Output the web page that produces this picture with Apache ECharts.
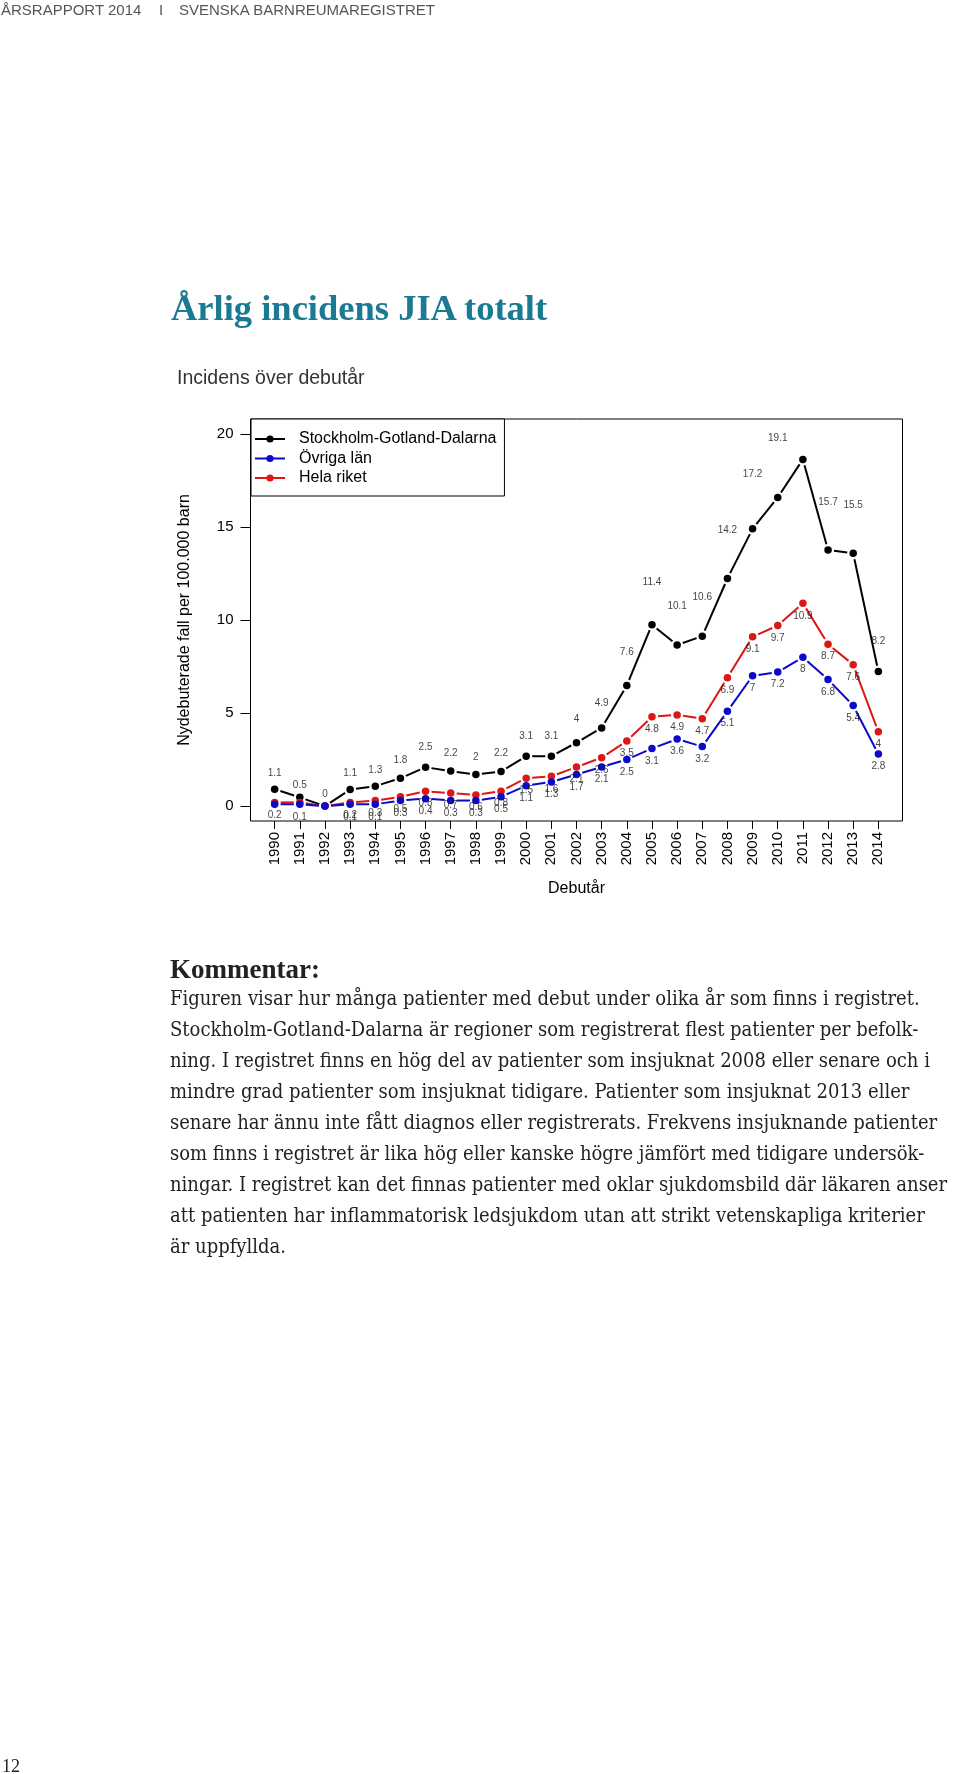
<!DOCTYPE html>
<html>
<head>
<meta charset="utf-8">
<script src="https://cdn.jsdelivr.net/npm/echarts@6/dist/echarts.min.js"></script>
<style>
html,body{margin:0;padding:0;background:#fff;}
#page{position:relative;width:960px;height:1774px;overflow:hidden;background:#fff;}
#chart{position:absolute;left:0;top:0;width:960px;height:1774px;}
.t{position:absolute;white-space:pre;z-index:2;}
.hdr{font-family:'Liberation Sans',Arial,sans-serif;font-size:15px;line-height:15px;color:#555;}
.title{font-family:'Liberation Serif',serif;font-weight:bold;font-size:36.5px;line-height:36.5px;color:#1a7a94;}
.sub{font-family:'Liberation Sans',Arial,sans-serif;font-size:19.5px;line-height:19.5px;color:#333;}
.komm{font-family:'Liberation Serif',serif;font-weight:bold;font-size:27px;line-height:27px;color:#222;}
.body{font-family:'DejaVu Serif Condensed','DejaVu Serif',serif;font-stretch:condensed;font-size:20px;line-height:20px;color:#222;left:170px;}
.pg{font-family:'Liberation Serif',serif;font-size:18px;line-height:18px;color:#222;}
</style>
</head>
<body>
<div id="page">
  <div id="chart"></div>
  <div class="t hdr" style="left:1px;top:2px;">ÅRSRAPPORT 2014</div>
  <div class="t hdr" style="left:159px;top:2px;">I</div>
  <div class="t hdr" style="left:179px;top:2px;">SVENSKA BARNREUMAREGISTRET</div>
  <div class="t title" style="left:171px;top:290px;">Årlig incidens JIA totalt</div>
  <div class="t sub" style="left:177px;top:368px;">Incidens över debutår</div>
  <div class="t komm" style="left:170px;top:956px;">Kommentar:</div>
  <div class="t body" style="top:987.8px;">Figuren visar hur många patienter med debut under olika år som finns i registret.</div>
  <div class="t body" style="top:1018.8px;">Stockholm-Gotland-Dalarna är regioner som registrerat flest patienter per befolk-</div>
  <div class="t body" style="top:1049.8px;">ning. I registret finns en hög del av patienter som insjuknat 2008 eller senare och i</div>
  <div class="t body" style="top:1080.8px;">mindre grad patienter som insjuknat tidigare. Patienter som insjuknat 2013 eller</div>
  <div class="t body" style="top:1111.8px;">senare har ännu inte fått diagnos eller registrerats. Frekvens insjuknande patienter</div>
  <div class="t body" style="top:1142.8px;">som finns i registret är lika hög eller kanske högre jämfört med tidigare undersök-</div>
  <div class="t body" style="top:1173.8px;">ningar. I registret kan det finnas patienter med oklar sjukdomsbild där läkaren anser</div>
  <div class="t body" style="top:1204.8px;">att patienten har inflammatorisk ledsjukdom utan att strikt vetenskapliga kriterier</div>
  <div class="t body" style="top:1235.8px;">är uppfyllda.</div>
  <div class="t pg" style="left:2px;top:1757px;">12</div>
</div>
<script>
// ---- data ----
const years = [1990,1991,1992,1993,1994,1995,1996,1997,1998,1999,2000,2001,2002,2003,2004,2005,2006,2007,2008,2009,2010,2011,2012,2013,2014];
const yTicks = [0,5,10,15,20];
const seriesNames = ['Stockholm-Gotland-Dalarna','Övriga län','Hela riket'];
// marker positions as drawn
const sgdValues = [0.91,0.47,0,0.89,1.07,1.5,2.09,1.88,1.7,1.86,2.68,2.68,3.41,4.2,6.48,9.75,8.66,9.13,12.23,14.9,16.58,18.63,13.76,13.58,7.23];
// printed labels
const sgdLabels = [1.1,0.5,0,1.1,1.3,1.8,2.5,2.2,2,2.2,3.1,3.1,4,4.9,7.6,11.4,10.1,10.6,14.2,17.2,19.1,null,15.7,15.5,8.2];
const ovrigaValues = [0.1,0.1,0,0.1,0.1,0.3,0.4,0.3,0.3,0.5,1.1,1.3,1.7,2.1,2.5,3.1,3.6,3.2,5.1,7,7.2,8,6.8,5.4,2.8];
const ovrigaLabels = [null,0.1,null,0.1,0.1,0.3,0.4,0.3,0.3,0.5,1.1,1.3,1.7,2.1,2.5,3.1,3.6,3.2,5.1,7,7.2,8,6.8,5.4,2.8];
const helaValues = [0.2,0.2,0,0.2,0.3,0.5,0.8,0.7,0.6,0.8,1.5,1.6,2.1,2.6,3.5,4.8,4.9,4.7,6.9,9.1,9.7,10.9,8.7,7.6,4];
const helaLabels = [0.2,null,null,0.2,0.3,0.5,0.8,0.7,0.6,0.8,1.5,1.6,2.1,2.6,3.5,4.8,4.9,4.7,6.9,9.1,9.7,10.9,8.7,7.6,4];

const FONT = "'Liberation Sans', Arial, Helvetica, sans-serif";
const COLORS = ['#000000', '#0a0ac8', '#dd1616'];
const GAP = 6;

function markerSeries(name, vals, color, z) {
  return {
    name: name, type: 'line', data: years.map((y, i) => [y, vals[i]]),
    symbol: 'circle', symbolSize: 7.5, showAllSymbol: true,
    lineStyle: { opacity: 0, width: 0 }, itemStyle: { color: color },
    z: z, silent: true, emphasis: { disabled: true }
  };
}
function segSeries(vals, color, z) {
  const data = [];
  for (let i = 0; i < years.length - 1; i++) data.push([years[i], vals[i], years[i + 1], vals[i + 1]]);
  return {
    type: 'custom', silent: true, z: z, data: data,
    encode: { x: [0, 2], y: [1, 3] },
    renderItem: function (params, api) {
      const p0 = api.coord([api.value(0), api.value(1)]);
      const p1 = api.coord([api.value(2), api.value(3)]);
      const dx = p1[0] - p0[0], dy = p1[1] - p0[1];
      const len = Math.sqrt(dx * dx + dy * dy);
      if (len <= 2 * GAP) return null;
      const ux = dx / len, uy = dy / len;
      return {
        type: 'line',
        shape: { x1: p0[0] + ux * GAP, y1: p0[1] + uy * GAP, x2: p1[0] - ux * GAP, y2: p1[1] - uy * GAP },
        style: { stroke: color, lineWidth: 2 }
      };
    }
  };
}
function labelSeries(labels, dy, z) {
  const data = [];
  years.forEach((y, i) => { if (labels[i] !== null) data.push([y, labels[i]]); });
  return {
    type: 'scatter', data: data, symbolSize: 1, silent: true, z: z,
    itemStyle: { color: 'rgba(0,0,0,0)' },
    label: { show: true, position: 'inside', offset: [0, dy], formatter: p => String(p.value[1]),
      fontSize: 10, color: '#111', fontFamily: FONT }
  };
}

const chart = echarts.init(document.getElementById('chart'), null, { renderer: 'canvas' });
chart.setOption({
  animation: false,
  backgroundColor: 'transparent',
  grid: { left: 250.5, top: 419, width: 652, height: 402, show: true, borderColor: '#000', borderWidth: 1, backgroundColor: 'transparent' },
  legend: {
    orient: 'vertical', left: 251, top: 419, padding: [12, 8, 10, 3], itemGap: 3.5, itemWidth: 30, itemHeight: 9,
    borderColor: '#000', borderWidth: 1, backgroundColor: '#fff', selectedMode: false,
    textStyle: { fontSize: 16, fontFamily: FONT, color: '#000', lineHeight: 16, padding: [0, 0, 0, 9] },
    data: seriesNames.map((n, i) => ({ name: n, lineStyle: { color: COLORS[i], width: 2, opacity: 1 }, itemStyle: { color: COLORS[i] } }))
  },
  xAxis: {
    type: 'value', min: 1989.04, max: 2014.96,
    axisLine: { show: false, onZero: false }, splitLine: { show: false },
    axisTick: { show: true, length: 8, lineStyle: { color: '#000', width: 1 }, customValues: years },
    axisLabel: { rotate: 90, margin: 11, fontSize: 15, color: '#000', fontFamily: FONT, customValues: years, formatter: v => String(v) },
    name: 'Debutår', nameLocation: 'middle', nameGap: 60,
    nameTextStyle: { fontSize: 16, color: '#000', fontFamily: FONT }
  },
  yAxis: {
    type: 'value', min: -0.8, max: 20.8,
    axisLine: { show: false, onZero: false }, splitLine: { show: false },
    axisTick: { show: true, length: 10, lineStyle: { color: '#000', width: 1 }, customValues: yTicks },
    axisLabel: { margin: 17, fontSize: 15, color: '#000', fontFamily: FONT, customValues: yTicks, formatter: v => String(v) },
    name: 'Nydebuterade fall per 100.000 barn', nameLocation: 'middle', nameGap: 58, nameRotate: 90,
    nameTextStyle: { fontSize: 16, color: '#000', fontFamily: FONT }
  },
  series: [
    segSeries(sgdValues, COLORS[0], 2),
    segSeries(helaValues, COLORS[2], 2),
    segSeries(ovrigaValues, COLORS[1], 2),
    markerSeries(seriesNames[0], sgdValues, COLORS[0], 3),
    markerSeries(seriesNames[2], helaValues, COLORS[2], 3),
    markerSeries(seriesNames[1], ovrigaValues, COLORS[1], 3),
    labelSeries(sgdLabels, -12, 4),
    labelSeries(helaLabels, 12.5, 4),
    labelSeries(ovrigaLabels, 12.5, 4)
  ]
});
</script>
</body>
</html>
